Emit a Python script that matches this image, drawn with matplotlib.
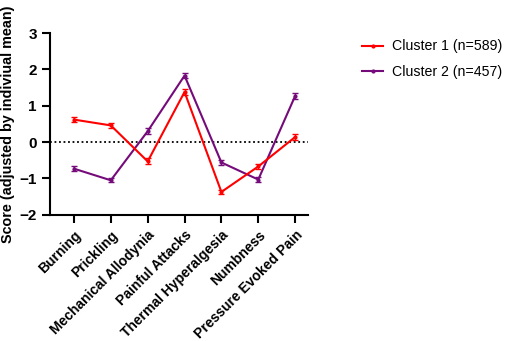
import matplotlib.pyplot as plt
from matplotlib.lines import Line2D

categories = ['Burning', 'Prickling', 'Mechanical Allodynia', 'Painful Attacks',
              'Thermal Hyperalgesia', 'Numbness', 'Pressure Evoked Pain']
cluster1 = [0.62, 0.46, -0.53, 1.38, -1.37, -0.67, 0.14]
cluster1_err = [0.07, 0.06, 0.08, 0.07, 0.06, 0.08, 0.08]
cluster2 = [-0.73, -1.05, 0.30, 1.83, -0.56, -1.03, 1.27]
cluster2_err = [0.07, 0.06, 0.08, 0.06, 0.07, 0.08, 0.07]
labels = ['Cluster 1 (n=589)', 'Cluster 2 (n=457)']
colors = ['#ff0000', '#750b7a']

plt.rcParams['font.family'] = ['Liberation Sans', 'DejaVu Sans']

fig = plt.figure(figsize=(5.1, 3.41), dpi=100)
ax = fig.add_axes([0.098, 0.370, 0.506, 0.533])

x = list(range(len(categories)))
ax.axhline(0, color='black', linestyle=(0, (1, 1.5)), linewidth=1.3, zorder=1)
ax.errorbar(x, cluster1, yerr=cluster1_err, color=colors[0], linewidth=1.5,
            marker='o', markersize=2, capsize=2, elinewidth=1, capthick=1, zorder=3)
ax.errorbar(x, cluster2, yerr=cluster2_err, color=colors[1], linewidth=1.5,
            marker='o', markersize=2, capsize=2, elinewidth=1, capthick=1, zorder=2)

ax.set_xlim(-0.65, 6.35)
ax.set_ylim(-2, 3)
ax.set_yticks([-2, -1, 0, 1, 2, 3])
ax.set_xticks(x)
ax.set_xticklabels(categories, rotation=45, ha='right', rotation_mode='anchor',
                   fontweight='bold', fontsize=10)
for lab in ax.get_yticklabels():
    lab.set_fontweight('bold')
    lab.set_fontsize(11)
ax.set_ylabel('Score (adjusted by indiviual mean)', fontweight='bold', fontsize=10.4,
              labelpad=3)

for side in ['top', 'right']:
    ax.spines[side].set_visible(False)
for side in ['left', 'bottom']:
    ax.spines[side].set_linewidth(1.5)
ax.tick_params(direction='out', length=6, width=1.5)

handles = [Line2D([0], [0], color=c, linewidth=1.5, marker='o', markersize=2)
           for c in colors]
ax.legend(handles, labels, loc='upper left', bbox_to_anchor=(1.16, 1.035), frameon=False,
          fontsize=10.2, handlelength=1.5, handletextpad=0.6, labelspacing=0.8)

fig.savefig('out.png', dpi=100)
